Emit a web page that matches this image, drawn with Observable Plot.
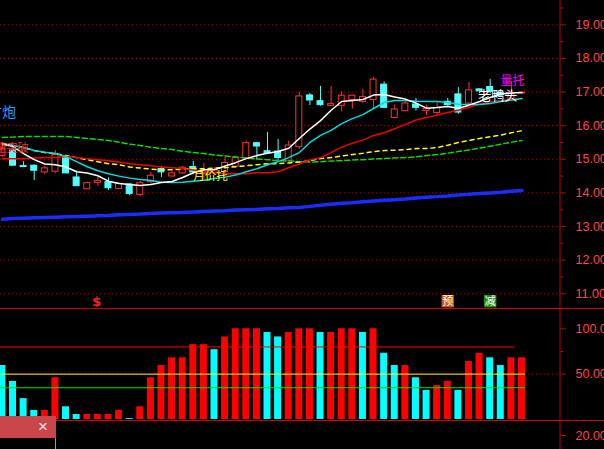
<!DOCTYPE html>
<html><head><meta charset="utf-8">
<script src="https://cdn.jsdelivr.net/npm/d3@7"></script>
<script src="https://cdn.jsdelivr.net/npm/@observablehq/plot@0.6"></script>
<style>
html,body{margin:0;padding:0;background:#000;overflow:hidden;}
#chart{position:relative;width:604px;height:449px;background:#000;overflow:hidden;}
#chart>svg{position:absolute;left:0;}
.sep{position:absolute;left:0;width:604px;height:1px;background:#d00000;}
#closebox{position:absolute;left:0;top:416px;width:56px;height:22px;background:#c9474b;}
#closebox span{position:absolute;left:38px;top:1px;font:17px "Liberation Sans",sans-serif;color:#e6e6e6;}
#grayline{position:absolute;left:55px;top:438px;width:1px;height:11px;background:#9a9a9a;}
</style></head><body>
<div id="chart"></div>
<script>
// ---- data ----
const days = d3.range(50);
const open  = [15.10,15.26,14.80,14.81,14.61,14.63,15.06,14.46,14.11,14.30,14.32,14.12,14.25,13.94,14.32,14.71,14.49,14.58,14.77,14.57,14.60,14.62,14.78,15.03,15.48,15.24,15.23,14.96,15.36,16.90,16.73,16.59,16.59,16.76,16.71,16.76,17.22,16.23,16.43,16.63,16.43,16.38,16.71,16.93,16.66,17.08,17.15,16.98,16.76,16.96];
const high  = [15.45,15.30,14.93,14.83,14.79,15.26,15.09,14.66,14.32,14.46,14.45,14.30,14.27,14.34,14.61,14.78,14.63,14.79,14.94,14.88,14.75,15.06,15.06,15.54,15.50,15.80,15.59,15.54,16.99,16.96,17.17,17.17,17.01,16.91,17.07,17.43,17.30,16.61,16.74,16.81,16.61,16.68,16.81,17.13,17.28,17.10,17.38,17.05,17.31,17.00];
const low   = [15.05,14.81,14.76,14.37,14.54,14.58,14.58,14.20,14.11,14.19,14.07,14.10,13.92,13.89,14.27,14.46,14.47,14.56,14.54,14.38,14.55,14.58,14.76,15.00,14.98,15.16,14.96,14.93,15.30,16.60,16.58,16.58,16.41,16.49,16.66,16.51,16.53,16.23,16.41,16.43,16.31,16.33,16.58,16.34,16.64,16.95,16.95,16.85,16.74,16.92];
const close = [15.30,14.81,14.77,14.66,14.73,15.13,14.58,14.20,14.29,14.36,14.14,14.27,13.97,14.29,14.51,14.61,14.58,14.75,14.61,14.60,14.68,14.89,15.04,15.48,15.38,15.18,15.04,15.41,16.87,16.75,16.61,16.64,16.89,16.89,16.85,17.37,16.53,16.48,16.66,16.53,16.49,16.53,16.61,16.39,17.05,17.02,17.01,16.90,16.96,16.98];
const ma5   = [15.47,15.38,15.17,14.99,14.86,14.84,14.77,14.63,14.59,14.51,14.35,14.28,14.25,14.22,14.25,14.31,14.34,14.46,14.60,14.69,14.69,14.80,14.90,15.02,15.11,15.18,15.23,15.33,15.62,15.90,16.15,16.46,16.72,16.75,16.78,16.91,16.93,16.85,16.79,16.67,16.52,16.54,16.57,16.52,16.61,16.72,16.84,16.94,16.97,16.99];
const ma10  = [15.47,15.41,15.35,15.26,15.21,15.17,15.08,14.93,14.78,14.66,14.57,14.50,14.44,14.40,14.37,14.32,14.31,14.32,14.35,14.38,14.43,14.47,14.53,14.63,14.72,14.84,14.93,15.05,15.20,15.50,15.71,15.86,16.06,16.21,16.33,16.51,16.69,16.75,16.75,16.73,16.72,16.72,16.69,16.64,16.63,16.63,16.66,16.72,16.76,16.81];
const ma20  = [15.02,15.02,15.02,15.04,15.05,15.05,15.08,15.05,15.02,14.99,14.96,14.92,14.87,14.84,14.81,14.77,14.75,14.72,14.68,14.63,14.60,14.57,14.57,14.57,14.60,14.60,14.63,14.75,14.86,14.98,15.05,15.20,15.36,15.48,15.57,15.71,15.79,15.91,16.04,16.17,16.24,16.32,16.39,16.46,16.55,16.64,16.71,16.75,16.78,16.81];
const ma30  = [15.44,15.41,15.35,15.26,15.20,15.17,15.11,15.05,14.99,14.93,14.87,14.84,14.77,14.74,14.71,14.69,14.69,14.71,14.72,14.72,14.74,14.75,14.78,14.81,14.84,14.87,14.87,14.89,14.92,14.96,15.02,15.05,15.10,15.14,15.18,15.23,15.26,15.27,15.29,15.32,15.32,15.35,15.42,15.50,15.56,15.62,15.67,15.72,15.79,15.85];
const ma60  = [15.65,15.66,15.68,15.68,15.68,15.68,15.68,15.65,15.62,15.59,15.56,15.51,15.45,15.41,15.36,15.32,15.29,15.24,15.20,15.17,15.13,15.10,15.07,15.04,15.01,14.99,14.96,14.95,14.93,14.92,14.93,14.95,14.96,14.98,14.99,15.01,15.02,15.04,15.05,15.07,15.11,15.14,15.18,15.23,15.28,15.33,15.39,15.45,15.51,15.56];
const ma250 = [13.22,13.24,13.25,13.26,13.27,13.28,13.29,13.30,13.31,13.32,13.33,13.35,13.36,13.37,13.39,13.40,13.41,13.42,13.43,13.45,13.46,13.47,13.49,13.50,13.51,13.53,13.54,13.56,13.57,13.60,13.63,13.66,13.69,13.71,13.74,13.76,13.78,13.80,13.82,13.85,13.87,13.89,13.91,13.94,13.96,13.98,14.00,14.02,14.05,14.07];
const ind   = [59.5,42,23,10,10,46,14,5.5,5.5,5.5,5.5,10,1,14,46,59.5,68,68,82.5,82.5,77,91,100,100,100,96,91,96,100,100,96,96,100,100,96,100,73,59.5,59.5,46,32,37.5,42,32,64,73,68,59.5,68,68];
const indUp = [0,0,0,0,1,1,0,0,1,1,1,1,0,1,1,1,1,1,1,1,0,1,1,1,1,0,0,1,1,1,0,1,1,1,0,1,0,0,1,0,0,1,1,0,1,1,0,0,1,1];
const indLevels = [80, 50, 35];
const priceTicks = [11,12,13,14,15,16,17,18,19];
const priceMinor = [11.5,12.5,13.5,14.5,15.5,16.5,17.5,18.5,19.5];
const lowerTicks = [50,100];
const lowerMinor = [75];
const bottomTicks = [20];
const annText  = ["方炮","放量突破","月价托","老鸭头","量托"];
const annDay   = [1, 2, 20, 47, 48];
const annPrice = [16.39, 15.33, 14.49, 16.90, 17.31];
const markText  = ["$","预","减"];
const markDay   = [9, 42, 46];
const markPrice = [10.75, 10.78, 10.78];

// ---- styles ----
const RED="#ff3232", CYAN="#54fcfc", BAR_RED="#ff0000", BAR_CYAN="#00ffff";
const AXIS="#c00000", LABEL="#ff4646", GRID="#a00000";
const fmt = d => d.toPrecision(4);
const xBand = () => ({type:"band", domain: days, range:[-5.2, 528.6], padding:0.34, round:false, axis:null});
const base = {width:604, marginLeft:0, marginRight:44.5, marginTop:0, marginBottom:0,
  style:{background:"transparent", overflow:"visible"}};
const axisMarks = (major, minor) => [
  Plot.frame({anchor:"right", stroke: AXIS}),
  ...(minor ? [Plot.axisY(minor, {anchor:"right", tickSize:3, tickFormat:()=>"", color:AXIS, label:null})] : []),
  Plot.axisY(major, {anchor:"right", tickSize:5.5, tickFormat:()=>"", color:AXIS, label:null}),
  Plot.axisY(major, {anchor:"right", tickSize:0, tickPadding:15.5, tickFormat:fmt, color:LABEL,
    fontSize:12.5, fontFamily:"Liberation Sans, Arial, sans-serif", label:null})
];
const up = d => close[d] >= open[d];
const ann = (k, o) => Plot.text([k], {x: k=>annDay[k], y: k=>annPrice[k], text: k=>annText[k],
  fontFamily:"Noto Sans CJK SC", ...o});

const pricePanel = Plot.plot({...base, height:308,
  x: xBand(),
  y: {domain:[11,19], range:[293.3,24.3]},
  marks: [
    Plot.gridY(priceTicks, {stroke:GRID, strokeOpacity:1, strokeDasharray:"1,3"}),
    ...axisMarks(priceTicks, priceMinor),
    Plot.ruleX(days, {x:d=>d, y1:d=>low[d], y2:d=>high[d], stroke:d=>up(d)?RED:CYAN}),
    Plot.barY(days, {x:d=>d, y1:d=>open[d], y2:d=>close[d], fill:d=>up(d)?"#000000":CYAN,
      stroke:d=>up(d)?RED:CYAN, insetLeft:0.5, insetRight:0.5}),
    Plot.lineY(ma250, {x:days, stroke:"#1a2cff", strokeWidth:3.5}),
    Plot.lineY(ma60, {x:days, stroke:"#00e000", strokeDasharray:"5,3"}),
    Plot.lineY(ma30, {x:days, stroke:"#ffff00", strokeDasharray:"4,4"}),
    Plot.lineY(ma20, {x:days, stroke:"#f00000"}),
    Plot.lineY(ma10, {x:days, stroke:"#00dcdc"}),
    Plot.lineY(ma5, {x:days, stroke:"#ffffff"}),
    ann(0, {fill:"#2f9bff", fontSize:14, textAnchor:"end", dx:3}),
    ann(1, {fill:"#ff2a2a", fontSize:11, textAnchor:"end", dx:5}),
    ann(2, {fill:"#ffff00", fontSize:11.5, dx:-4}),
    ann(3, {fill:"#ffffff", fontSize:13, dx:-3}),
    ann(4, {fill:"#ff00ff", fontSize:12, dx:1}),
    Plot.text([0], {x:k=>markDay[k], y:k=>markPrice[k], text:k=>markText[k], fill:"#ff2020",
      fontSize:13, fontWeight:"bold", fontFamily:"DejaVu Sans", dx:-1}),
    Plot.dot([1], {x:k=>markDay[k], y:k=>markPrice[k], symbol:"square", r:7, fill:"#c4561e"}),
    Plot.dot([2], {x:k=>markDay[k], y:k=>markPrice[k], symbol:"square", r:7, fill:"#1c8c1c"}),
    Plot.text([1,2], {x:k=>markDay[k], y:k=>markPrice[k], text:k=>markText[k], fill:"#ffffff",
      fontSize:11, fontFamily:"Noto Sans CJK SC"})
  ]
});

const lowerPanel = Plot.plot({...base, height:111,
  x: xBand(),
  y: {domain:[0,100], range:[110,19.3]},
  marks: [
    Plot.gridY([50], {stroke:GRID, strokeOpacity:1, strokeDasharray:"1,3"}),
    ...axisMarks(lowerTicks, lowerMinor),
    Plot.barY(days, {x:d=>d, y:d=>ind[d], fill:d=>indUp[d]?BAR_RED:BAR_CYAN}),
    Plot.ruleY([indLevels[0]], {x1:0, x2:48, stroke:"#ff0000"}),
    Plot.ruleY([indLevels[1]], {x1:0, x2:49, stroke:"#ffff00"}),
    Plot.ruleY([indLevels[2]], {x1:0, x2:49, stroke:"#00e000"})
  ]
});

const bottomPanel = Plot.plot({...base, height:28,
  x: xBand(),
  y: {domain:[0,40], range:[28,0]},
  marks: [...axisMarks(bottomTicks, null)]
});

const chart = document.getElementById("chart");
pricePanel.style.top = "0px";
lowerPanel.style.top = "309px";
bottomPanel.style.top = "421px";
chart.append(pricePanel, lowerPanel, bottomPanel);
for (const t of [308, 420]) {
  const s = document.createElement("div"); s.className = "sep"; s.style.top = t + "px"; chart.append(s);
}
const cb = document.createElement("div"); cb.id = "closebox"; cb.innerHTML = "<span>×</span>"; chart.append(cb);
const gl = document.createElement("div"); gl.id = "grayline"; chart.append(gl);
</script></body></html>
